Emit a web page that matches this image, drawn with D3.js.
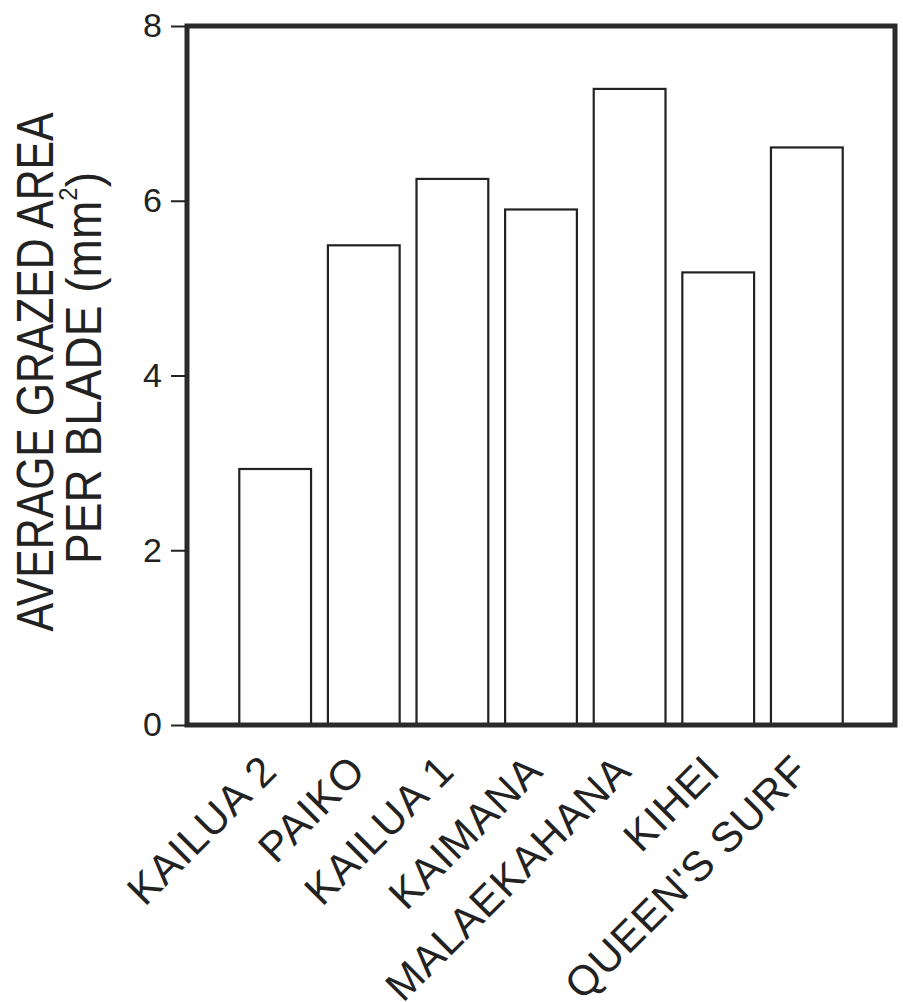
<!DOCTYPE html>
<html>
  <head>
    <meta charset="utf-8">
    <script src="https://d3js.org/d3.v7.min.js"></script>
    <style>
      body { margin: 0; background: #fff; }
      text { font-family: "Liberation Sans", Arial, Helvetica, sans-serif; fill: #222; }
    </style>
  </head>
  <body>
    <script>
      // sites along the x axis, in the order they are drawn
      var sites = ["KAILUA 2", "PAIKO", "KAILUA 1", "KAIMANA", "MALAEKAHANA", "KIHEI", "QUEEN'S SURF"];
      // average grazed area per blade (mm^2)
      var grazedArea = [2.93, 5.49, 6.25, 5.90, 7.28, 5.18, 6.61];
      var yTicks = [0, 2, 4, 6, 8];

      // plot box edges (note: "top" is taken by window.top, so use other names)
      var width = 903,
          height = 1002,
          plotLeft = 187, plotRight = 895, plotTop = 26, plotBottom = 725;

      var svg = d3.select("body").append("svg")
          .attr("width", width)
          .attr("height", height);

      var x = d3.scaleBand()
          .domain(sites)
          .range([plotLeft, plotRight])
          .paddingInner(0.19)
          .paddingOuter(0.59);

      var y = d3.scaleLinear()
          .domain([0, 8])
          .range([plotBottom, plotTop]);

      // bars - open white boxes with black outline
      svg.append("g")
        .selectAll("rect")
        .data(grazedArea)
        .enter().append("rect")
          .attr("x", function(d, i) { return x(sites[i]); })
          .attr("y", function(d) { return y(d); })
          .attr("width", x.bandwidth())
          .attr("height", function(d) { return y(0) - y(d); })
          .style("fill", "#fff")
          .style("stroke", "#222")
          .style("stroke-width", 2.2);

      // heavy frame round the plot
      svg.append("rect")
          .attr("x", plotLeft)
          .attr("y", plotTop)
          .attr("width", plotRight - plotLeft)
          .attr("height", plotBottom - plotTop)
          .style("fill", "none")
          .style("stroke", "#2a2a2a")
          .style("stroke-width", 5);

      // y axis ticks
      var yAxis = svg.append("g")
          .attr("transform", "translate(" + plotLeft + ",0)")
          .call(d3.axisLeft(y).tickValues(yTicks).tickSize(16).tickSizeOuter(0).tickPadding(9).tickFormat(d3.format("d")));
      yAxis.select(".domain").remove();
      yAxis.selectAll(".tick line").style("stroke", "#222").style("stroke-width", 2);
      yAxis.selectAll(".tick text")
          .style("font-size", "34px")
          .style("font-family", "\"Liberation Sans\", Arial, sans-serif")
          .style("fill", "#222");

      // slanted site names under the bars
      svg.append("g")
        .selectAll("text")
        .data(sites)
        .enter().append("text")
          .attr("transform", function(d) {
            return "translate(" + (x(d) + x.bandwidth() / 2 + 4) + "," + (plotBottom + 48) + ") rotate(-45)";
          })
          .style("text-anchor", "end")
          .style("font-size", "42px")
          .style("letter-spacing", "1px")
          .text(function(d) { return d; });

      // y axis title, two lines, squeezed like the original lettering
      var title = svg.append("g")
          .attr("transform", "translate(0,372) rotate(-90)");

      title.append("text")
          .attr("x", 0)
          .attr("y", 53)
          .attr("textLength", 519)
          .attr("lengthAdjust", "spacingAndGlyphs")
          .style("text-anchor", "middle")
          .style("font-size", "52px")
          .text("AVERAGE GRAZED AREA");

      var line2 = title.append("text")
          .attr("x", 4)
          .attr("y", 101)
          .attr("textLength", 392)
          .attr("lengthAdjust", "spacingAndGlyphs")
          .style("text-anchor", "middle")
          .style("font-size", "50px");
      line2.append("tspan").text("PER BLADE (mm");
      line2.append("tspan").attr("dy", -24).style("font-size", "26px").text("2");
      line2.append("tspan").attr("dy", 24).text(")");
    </script>
  </body>
</html>
